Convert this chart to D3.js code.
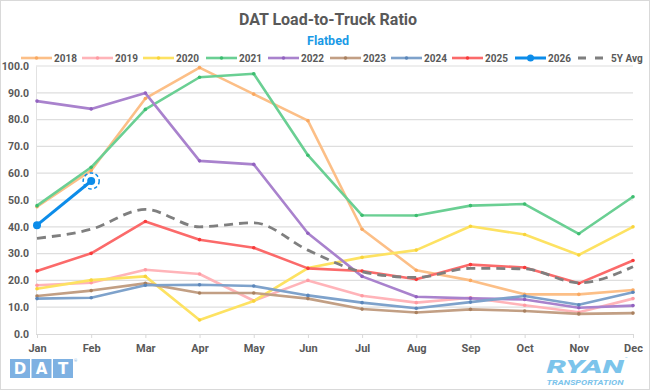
<!DOCTYPE html>
<html><head><meta charset="utf-8">
<script src="https://cdn.jsdelivr.net/npm/d3@7/dist/d3.min.js"></script>
<style>body{margin:0;background:#fff}svg{display:block}</style>
</head><body>
<svg id="chart" width="650" height="390"></svg>
<script>
const months = ["Jan","Feb","Mar","Apr","May","Jun","Jul","Aug","Sep","Oct","Nov","Dec"];
const yTicks = [0,10,20,30,40,50,60,70,80,90,100];
const s2018 = [47.5,61.0,87.9,99.4,89.5,79.6,39.1,23.8,20.0,14.8,14.8,16.4];
const s2019 = [18.2,19.1,24.0,22.4,12.4,20.0,14.3,11.7,13.5,10.7,8.1,13.2];
const s2020 = [16.9,20.1,21.5,5.2,12.3,24.6,28.6,31.3,40.2,37.1,29.5,40.0];
const s2021 = [47.9,62.2,83.8,95.8,97.1,66.7,44.3,44.2,47.9,48.5,37.4,51.2];
const s2022 = [86.9,84.0,89.9,64.6,63.3,37.6,21.5,13.9,13.3,12.9,9.8,10.6];
const s2023 = [14.2,16.2,18.9,15.3,15.3,13.2,9.3,8.0,9.2,8.6,7.5,7.8];
const s2024 = [13.2,13.5,18.2,18.4,17.9,14.4,11.7,9.6,11.9,14.2,10.9,15.6];
const s2025 = [23.5,30.1,42.0,35.2,32.2,24.5,23.5,20.4,25.9,24.8,18.9,27.4];
const s2026 = [40.6,57.1];
const s5yAvg = [35.7,39.1,46.5,40.0,41.5,31.3,23.2,21.1,24.5,24.3,19.1,25.1];
const seriesNames = ["2018","2019","2020","2021","2022","2023","2024","2025","2026","5Y Avg"];

const colors = {"2018":"#fcbf87","2019":"#ffb4b9","2020":"#fde262","2021":"#6acf93","2022":"#a982cd","2023":"#c29f84","2024":"#7ea2cb","2025":"#fb6a6a","2026":"#0c8ce9","5Y Avg":"#7f7f7f"};
const markerColors = {"2018":"#f9a860","2019":"#ff9aa2","2020":"#f8d43a","2021":"#3cbd6f","2022":"#9262c0","2023":"#a9805f","2024":"#5b86ba","2025":"#f83a3a","2026":"#0c8ce9"};
const data = {"2018":s2018,"2019":s2019,"2020":s2020,"2021":s2021,"2022":s2022,"2023":s2023,"2024":s2024,"2025":s2025,"2026":s2026,"5Y Avg":s5yAvg};

const svg = d3.select("#chart");
const font = "Roboto, 'Liberation Sans', sans-serif";
const gray = "#595959";

svg.append("rect").attr("x",0.5).attr("y",0.5).attr("width",649).attr("height",389)
  .attr("fill","#fff").attr("stroke","#d9d9d9");

const x = d3.scalePoint().domain(months).range([37,633]);
const y = d3.scaleLinear().domain([0,100]).range([334,66]);

// gridlines
svg.append("g").selectAll("line").data(yTicks.filter(d=>d>0)).join("line")
  .attr("x1",36).attr("x2",633).attr("y1",d=>y(d)).attr("y2",d=>y(d))
  .attr("stroke","#dedede").attr("stroke-width",1.2);

// y axis
const yAxis = svg.append("g").attr("transform","translate(36,0)")
  .call(d3.axisLeft(y).tickValues(yTicks).tickFormat(d3.format(".1f")).tickSize(0).tickPadding(7));
yAxis.select(".domain").attr("stroke","#e2e2e2");
yAxis.selectAll("text").attr("font-family",font).attr("font-weight","bold").attr("font-size","10.5px").attr("fill",gray);

// x axis
const xAxis = svg.append("g").attr("transform","translate(0,334)")
  .call(d3.axisBottom(x).tickSize(4).tickPadding(6).tickSizeOuter(0));
xAxis.select(".domain").attr("stroke","#d9d9d9").attr("d","M36,0.5H633");
xAxis.selectAll(".tick line").attr("stroke","#d9d9d9");
xAxis.selectAll("text").attr("font-family",font).attr("font-weight","bold").attr("font-size","11px").attr("fill",gray);

const line = d3.line().x((d,i)=>x(months[i])).y(d=>y(d));
const smooth = d3.line().x((d,i)=>x(months[i])).y(d=>y(d)).curve(d3.curveMonotoneX);

const order = ["2018","2019","2020","2021","2022","2023","2024","2025"];
order.forEach(k=>{
  const g = svg.append("g");
  g.append("path").datum(data[k]).attr("d",line).attr("fill","none")
    .attr("stroke",colors[k]).attr("stroke-width",2.6).attr("stroke-linejoin","round");
  g.selectAll("circle").data(data[k]).join("circle")
    .attr("cx",(d,i)=>x(months[i])).attr("cy",d=>y(d)).attr("r",1.8).attr("fill",markerColors[k]);
});

// 5Y avg
svg.append("path").datum(s5yAvg).attr("d",smooth).attr("fill","none")
  .attr("stroke",colors["5Y Avg"]).attr("stroke-width",2.8).attr("stroke-dasharray","9,6");

// 2026
const g26 = svg.append("g");
g26.append("path").datum(s2026).attr("d",line).attr("fill","none")
  .attr("stroke",colors["2026"]).attr("stroke-width",3);
g26.selectAll("circle.pt").data(s2026).join("circle").attr("class","pt")
  .attr("cx",(d,i)=>x(months[i])).attr("cy",d=>y(d)).attr("r",4).attr("fill",colors["2026"]);
const last = s2026.length-1;
g26.append("circle").attr("cx",x(months[last])).attr("cy",y(s2026[last])).attr("r",8)
  .attr("fill","none").attr("stroke",colors["2026"]).attr("stroke-width",1.5).attr("stroke-dasharray","3.5,2.5");

// legend
const legendX = [21,82,143,206,268,330,391,452,515,578];
const lg = svg.append("g").attr("transform","translate(0,58)");
seriesNames.forEach((k,i)=>{
  const lx = legendX[i];
  if(k==="5Y Avg"){
    lg.append("line").attr("x1",lx).attr("x2",lx+27).attr("y1",0).attr("y2",0)
      .attr("stroke",colors[k]).attr("stroke-width",2.8).attr("stroke-dasharray","8,9");
    lg.append("text").attr("x",lx+33).attr("y",3.8).text(k)
      .attr("font-family",font).attr("font-weight","bold").attr("font-size","10px").attr("fill",gray);
  } else {
    lg.append("line").attr("x1",lx).attr("x2",lx+31).attr("y1",0).attr("y2",0)
      .attr("stroke",colors[k]).attr("stroke-width",k==="2026"?3:2.6);
    lg.append("circle").attr("cx",lx+15.5).attr("cy",0).attr("r",k==="2026"?3.5:1.8).attr("fill",markerColors[k]);
    lg.append("text").attr("x",lx+33).attr("y",3.8).text(k)
      .attr("font-family",font).attr("font-weight","bold").attr("font-size","10px").attr("fill",gray);
  }
});

// titles
svg.append("text").attr("x",328).attr("y",25).attr("text-anchor","middle").text("DAT Load-to-Truck Ratio")
  .attr("font-family",font).attr("font-weight","bold").attr("font-size","16px").attr("fill",gray);
svg.append("text").attr("x",328).attr("y",44.5).attr("text-anchor","middle").text("Flatbed")
  .attr("font-family",font).attr("font-weight","bold").attr("font-size","12.5px").attr("fill","#1a9ae6");

// DAT logo
const logo = svg.append("g");
["D","A","T"].forEach((c,i)=>{
  const bx = 10 + i*21.5;
  logo.append("rect").attr("x",bx).attr("y",359).attr("width",20).attr("height",19).attr("fill","#7eb1e2");
  logo.append("text").attr("x",bx+10).attr("y",374).attr("text-anchor","middle").text(c)
    .attr("font-family","'DejaVu Sans', sans-serif").attr("font-weight","bold").attr("font-size","15px").attr("fill","#fff");
});
logo.append("text").attr("x",74).attr("y",362).text("®").attr("font-size","4px").attr("fill","#7eb1e2").attr("font-family",font);

// RYAN logo
svg.append("text").attr("x",585).attr("y",373).attr("text-anchor","middle").text("RYAN")
  .attr("font-family",font).attr("font-weight","900").attr("font-style","italic").attr("font-size","19px")
  .attr("fill","#7cc4eb").attr("textLength",77).attr("lengthAdjust","spacingAndGlyphs");
svg.append("text").attr("x",625).attr("y",360).text("™").attr("font-size","4px").attr("fill","#7cc4eb").attr("font-family",font);
svg.append("text").attr("x",585).attr("y",384.5).attr("text-anchor","middle").text("TRANSPORTATION")
  .attr("font-family",font).attr("font-weight","bold").attr("font-style","italic").attr("font-size","6.5px")
  .attr("fill","#7cc4eb").attr("textLength",77).attr("lengthAdjust","spacingAndGlyphs");
</script>
</body></html>
